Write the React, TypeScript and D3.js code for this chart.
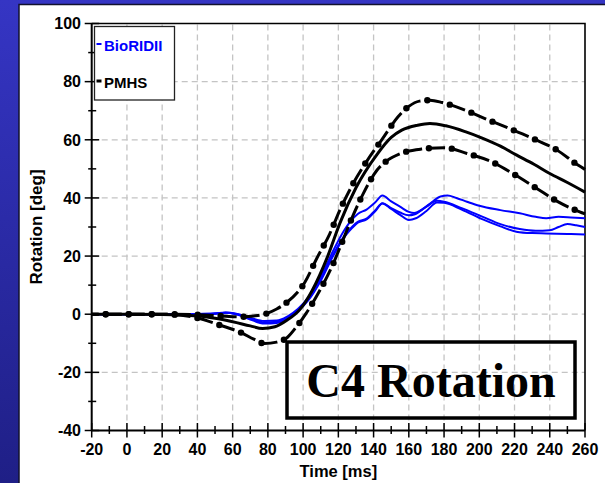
import React, { useEffect, useRef } from 'react';
import * as d3 from 'd3';

const W = 605;
const H = 483;

// Axis ticks
const xTicks = [-20, 0, 20, 40, 60, 80, 100, 120, 140, 160, 180, 200, 220, 240, 260];
const xMinorTicks = [-10, 10, 30, 50, 70, 90, 110, 130, 150, 170, 190, 210, 230, 250];
const yTicks = [-40, -20, 0, 20, 40, 60, 80, 100];
const yMinorTicks = [-30, -10, 10, 30, 50, 70, 90];

// PMHS corridor: mean and upper / lower bounds  [time ms, rotation deg]
const pmhsMean: [number, number][] = [
  [-20, 0], [0, 0], [20, -0.1], [40, -0.6], [50, -1.4], [60, -2.6], [70, -4], [77, -4.9],
  [84, -4.3], [91, -2], [98, 1.5], [105, 8], [114, 20], [121, 31.5], [130, 43.5], [142, 55],
  [150, 60.8], [156, 63.3], [165, 65], [172, 65.6], [181, 64.8], [192, 62.8], [202, 60.5],
  [212, 57.8], [221, 54.8], [231, 51.6], [240, 48.4], [250, 45.3], [260, 42],
];
const pmhsUpper: [number, number][] = [
  [-20, 0], [0, 0], [20, 0], [40, -0.2], [50, -0.5], [58, -0.8], [65, -0.9], [72, -0.6],
  [78, 0], [85, 1.8], [91, 4.2], [101, 11], [108, 19.5], [115, 27.5], [121, 36], [128, 44.5],
  [136, 52.5], [145, 60.3], [154, 68], [160, 71.5], [166, 73.3], [172, 73.6], [179, 72.8],
  [192, 70.2], [204, 67.1], [217, 63.9], [231, 60.3], [244, 56.5], [256, 51.3], [260, 49.8],
];
const pmhsLower: [number, number][] = [
  [-20, 0], [0, 0], [20, 0], [30, -0.3], [40, -1.3], [53, -3.8], [65, -6.4], [72, -8.6],
  [78, -10.1], [85, -9.6], [91, -8], [96, -4.5], [101.6, 0.2], [109.6, 8.3], [116.3, 16.3],
  [122, 24.6], [128, 33.5], [134, 41.3], [142, 49.6], [148, 53], [154.5, 55.1], [167, 56.8],
  [180, 57.3], [193, 55.3], [206, 52.7], [219, 48.4], [232, 43.5], [244, 38.9], [257, 35.2],
  [260, 34.5],
];

// BioRID II test runs
const bioridRun1: [number, number][] = [
  [-20, 0], [0, 0], [20, 0], [40, 0.1], [50, 0.3], [56, 0.6], [62, 0.2], [70, -1.2], [78, -2.3],
  [85, -2.2], [91, -0.8], [97, 1.8], [103, 5.8], [110, 12.8], [116, 20.5], [122, 27.5],
  [127, 32], [131, 34.5], [136, 36], [141, 38.5], [145, 40.8], [150, 38.8], [155, 37],
  [160, 35.2], [163, 34.8], [168, 36.2], [173, 38.5], [178, 40.5], [182, 40.8], [187, 40],
  [193, 38.7], [200, 37.3], [212, 35.8], [223, 34.7], [232, 33.5], [238, 33], [245, 33.5],
  [252, 33.3], [260, 33],
];
const bioridRun2: [number, number][] = [
  [-20, 0], [0, 0], [20, 0], [40, 0], [50, 0.2], [56, 0.5], [62, 0], [70, -1.8], [78, -3.2],
  [85, -3], [91, -1.6], [97, 1], [103, 4.8], [110, 11.5], [117, 20], [124, 27], [128, 29.8],
  [131, 31.5], [136, 32.6], [141, 35.5], [145, 38.1], [150, 36.2], [155, 34.2], [160, 32.4],
  [164, 33], [170, 35.5], [176, 38.4], [180, 38.3], [190, 36], [202, 32.6], [212, 30.2],
  [221, 28.4], [230, 27.9], [238, 27.8], [250, 27.6], [260, 27.4],
];
const bioridRun3: [number, number][] = [
  [-20, 0], [0, 0], [20, 0], [40, 0], [50, 0.2], [56, 0.5], [62, 0.1], [70, -1.5], [78, -2.8],
  [85, -2.6], [91, -1.2], [97, 1.4], [103, 5.2], [110, 12], [117, 20.5], [124, 27.5],
  [128, 30.2], [131, 31.8], [136, 32.9], [141, 35.8], [145, 38.2], [150, 36.5], [155, 35],
  [160, 34], [163, 34.3], [170, 37], [176, 39], [180, 38.7], [190, 36.5], [202, 33.5],
  [212, 31], [223, 29.3], [232, 28.7], [240, 28.9], [245, 30], [250, 31], [255, 30.6], [260, 30],
];

const legendLabels = ['BioRIDII', 'PMHS'];
const legendColors = ['#0000ff', '#000000'];

const xTitle = 'Time [ms]';
const yTitle = 'Rotation [deg]';
const chartTitle = 'C4 Rotation';

const SANS = '"Liberation Sans", Arial, sans-serif';
const SERIF = '"Liberation Serif", "Times New Roman", serif';

export default function App() {
  const ref = useRef<SVGSVGElement>(null);

  useEffect(() => {
    const svg = d3.select(ref.current);
    svg.selectAll('*').remove();

    // slide background
    const defs = svg.append('defs');
    const grad = defs.append('linearGradient').attr('id', 'slideBg')
      .attr('x1', 0).attr('y1', 0).attr('x2', 0).attr('y2', 1);
    grad.append('stop').attr('offset', '0%').attr('stop-color', '#3535c4');
    grad.append('stop').attr('offset', '100%').attr('stop-color', '#1f1f86');
    svg.append('rect').attr('width', W).attr('height', H).attr('fill', 'url(#slideBg)');
    svg.append('rect')
      .attr('x', 19).attr('y', 4.5).attr('width', W).attr('height', H)
      .attr('fill', '#ffffff').attr('stroke', '#12122e').attr('stroke-width', 1.5);

    const x = d3.scaleLinear().domain([-20, 260]).range([91.7, 585]);
    const y = d3.scaleLinear().domain([-40, 100]).range([430.5, 23.5]);
    const [x0, x1] = x.range();
    const [y0, y1] = y.range();

    // grid
    const grid = svg.append('g').attr('stroke', '#c4c4c4').attr('stroke-width', 1.3)
      .attr('stroke-dasharray', '6 4');
    grid.selectAll('line.v').data(xTicks.slice(1, -1)).join('line')
      .attr('x1', (d) => x(d)).attr('x2', (d) => x(d)).attr('y1', y0).attr('y2', y1);
    grid.selectAll('line.h').data(yTicks.slice(1, -1)).join('line')
      .attr('class', 'h')
      .attr('y1', (d) => y(d)).attr('y2', (d) => y(d)).attr('x1', x0).attr('x2', x1);

    // frame (top/right)
    svg.append('path')
      .attr('d', `M${x0},${y1}H${x1}V${y0}`)
      .attr('fill', 'none').attr('stroke', '#000').attr('stroke-width', 1.6);

    const line = d3.line<[number, number]>()
      .x((d) => x(d[0])).y((d) => y(d[1]))
      .curve(d3.curveMonotoneX);

    // BioRID runs
    [bioridRun1, bioridRun2, bioridRun3].forEach((run) => {
      svg.append('path').attr('d', line(run)!).attr('fill', 'none')
        .attr('stroke', '#0000ff').attr('stroke-width', 2);
    });

    // PMHS mean
    svg.append('path').attr('d', line(pmhsMean)!).attr('fill', 'none')
      .attr('stroke', '#000').attr('stroke-width', 3);

    // PMHS corridor bounds: dashed with dot markers
    const dotStart = 14;
    const dotStep = 23;
    [pmhsUpper, pmhsLower].forEach((bound) => {
      const p = svg.append('path').attr('d', line(bound)!).attr('fill', 'none')
        .attr('stroke', '#000').attr('stroke-width', 3)
        .attr('stroke-dasharray', '16 7').attr('stroke-dashoffset', dotStep - dotStart);
      const node = p.node() as SVGPathElement;
      const len = node.getTotalLength();
      const pts: DOMPoint[] = [];
      for (let s = dotStart; s < len; s += dotStep) pts.push(node.getPointAtLength(s));
      svg.append('g').selectAll('circle').data(pts).join('circle')
        .attr('cx', (d) => d.x).attr('cy', (d) => d.y).attr('r', 3.2).attr('fill', '#000');
    });

    // axes
    const ax = svg.append('g').attr('stroke', '#000');
    ax.append('line').attr('x1', x0).attr('x2', x1).attr('y1', y0).attr('y2', y0).attr('stroke-width', 2);
    ax.append('line').attr('x1', x0).attr('x2', x0).attr('y1', y0).attr('y2', y1).attr('stroke-width', 2);
    ax.selectAll('line.xt').data(xTicks).join('line').attr('class', 'xt')
      .attr('x1', (d) => x(d)).attr('x2', (d) => x(d)).attr('y1', y0 - 7.5).attr('y2', y0 + 7)
      .attr('stroke-width', 1.5);
    ax.selectAll('line.xm').data(xMinorTicks).join('line').attr('class', 'xm')
      .attr('x1', (d) => x(d)).attr('x2', (d) => x(d)).attr('y1', y0 - 4.5).attr('y2', y0 + 3.5)
      .attr('stroke-width', 1.5);
    ax.selectAll('line.yt').data(yTicks).join('line').attr('class', 'yt')
      .attr('y1', (d) => y(d)).attr('y2', (d) => y(d)).attr('x1', x0 - 7).attr('x2', x0 + 7.5)
      .attr('stroke-width', 1.5);
    ax.selectAll('line.ym').data(yMinorTicks).join('line').attr('class', 'ym')
      .attr('y1', (d) => y(d)).attr('y2', (d) => y(d)).attr('x1', x0 - 3.5).attr('x2', x0 + 4.5)
      .attr('stroke-width', 1.5);

    const labels = svg.append('g').attr('font-family', SANS).attr('font-weight', 'bold')
      .attr('font-size', 16).attr('fill', '#000');
    labels.selectAll('text.xl').data(xTicks).join('text').attr('class', 'xl')
      .attr('x', (d) => x(d)).attr('y', 455).attr('text-anchor', 'middle').text((d) => String(d));
    labels.selectAll('text.yl').data(yTicks).join('text').attr('class', 'yl')
      .attr('x', 81).attr('y', (d) => y(d)).attr('dy', '0.36em').attr('text-anchor', 'end')
      .text((d) => String(d));

    svg.append('text').attr('x', (x0 + x1) / 2).attr('y', 477).attr('text-anchor', 'middle')
      .attr('font-family', SANS).attr('font-weight', 'bold').attr('font-size', 16.5).text(xTitle);
    svg.append('text').attr('transform', `translate(42,${(y0 + y1) / 2}) rotate(-90)`)
      .attr('text-anchor', 'middle')
      .attr('font-family', SANS).attr('font-weight', 'bold').attr('font-size', 17).text(yTitle);

    // legend
    const lg = svg.append('g');
    lg.append('rect').attr('x', 94.5).attr('y', 26.5).attr('width', 80).attr('height', 73.5)
      .attr('fill', '#fff').attr('stroke', '#222').attr('stroke-width', 1.3);
    legendLabels.forEach((lab, i) => {
      const cy = 44 + i * 37;
      lg.append('line').attr('x1', 96.5).attr('x2', 101.5).attr('y1', cy).attr('y2', cy)
        .attr('stroke', legendColors[i]).attr('stroke-width', i === 0 ? 2 : 3);
      lg.append('text').attr('x', 104).attr('y', cy + 6.5)
        .attr('font-family', SANS).attr('font-weight', 'bold').attr('font-size', 15)
        .attr('fill', legendColors[i]).text(lab);
    });

    // chart title box
    svg.append('rect').attr('x', 287).attr('y', 342).attr('width', 288).attr('height', 76)
      .attr('fill', 'none').attr('stroke', '#000').attr('stroke-width', 3.5);
    svg.append('text').attr('x', 431).attr('y', 397).attr('text-anchor', 'middle')
      .attr('font-family', SERIF).attr('font-weight', 'bold').attr('font-size', 48)
      .text(chartTitle);
  }, []);

  return (
    <svg
      ref={ref}
      width={W}
      height={H}
      style={{ position: 'absolute', left: 0, top: 0, display: 'block' }}
    />
  );
}
